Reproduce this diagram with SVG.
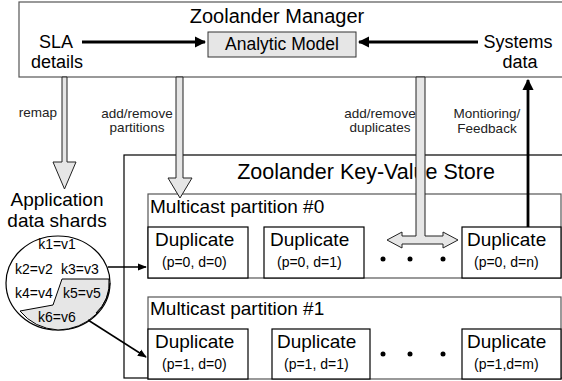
<svg xmlns="http://www.w3.org/2000/svg" width="562" height="381" viewBox="0 0 562 381">
<defs>
<style>
text{font-family:"Liberation Sans",Arial,sans-serif;fill:#000}
.big{font-size:20px}
.mid{font-size:18px}
.dup{font-size:19px}
.sm{font-size:14px}
.lbl{font-size:13.5px;fill:#222}
.kv{font-size:14px}
.box{fill:#fff;stroke:#000;stroke-width:1.2}
.gbox{fill:#fff;stroke:#555;stroke-width:1.2}
.blk{fill:#e6e6e6;stroke:#222;stroke-width:1}
.ln{stroke:#000;stroke-width:2.8;fill:none}
</style>
<marker id="ah" viewBox="0 0 10 10" refX="9" refY="5" markerWidth="4" markerHeight="4" orient="auto" markerUnits="strokeWidth"><path d="M0,0 L10,5 L0,10 z" fill="#000"/></marker>
<marker id="ah2" viewBox="0 0 10 10" refX="9" refY="5" markerWidth="6" markerHeight="6" orient="auto" markerUnits="strokeWidth"><path d="M0,1 L10,5 L0,9 z" fill="#000"/></marker>
</defs>

<g id="manager">
<rect x="19" y="2" width="545" height="75" class="gbox"/>
<text x="277" y="23" text-anchor="middle" class="big">Zoolander Manager</text>
<text x="56" y="48" text-anchor="middle" class="mid">SLA</text>
<text x="57" y="68" text-anchor="middle" class="mid">details</text>
<text x="518" y="48" text-anchor="middle" class="mid">Systems</text>
<text x="520" y="68" text-anchor="middle" class="mid">data</text>
</g>
<g id="analytic-model">
<rect x="208" y="32" width="148" height="25" fill="#e6e6e6" stroke="#333" stroke-width="1"/>
<text x="282" y="50" text-anchor="middle" style="font-size:17.5px">Analytic Model</text>
</g>

<g id="store">
<rect x="124" y="155" width="440" height="223" class="box"/>
<text x="366" y="179" text-anchor="middle" style="font-size:21.5px">Zoolander Key-Value Store</text>
</g>

<g id="partition0">
<rect x="148" y="194" width="413" height="84" class="gbox"/>
<text x="150" y="213" class="dup">Multicast partition #0</text>
</g>
<g id="p0d0"><rect x="148" y="227" width="100" height="51" class="box"/><text x="155" y="246" class="dup">Duplicate</text><text x="162" y="267" class="sm">(p=0, d=0)</text></g>
<g id="p0d1"><rect x="264" y="227" width="100" height="51" class="box"/><text x="270" y="246" class="dup">Duplicate</text><text x="277" y="267" class="sm">(p=0, d=1)</text></g>
<g id="p0dn"><rect x="462" y="227" width="99" height="51" class="box"/><text x="467" y="246" class="dup">Duplicate</text><text x="474" y="267" class="sm">(p=0, d=n)</text></g>
<g id="dots0" fill="#000"><circle cx="383" cy="259" r="2.5"/><circle cx="410" cy="259" r="2.5"/><circle cx="443" cy="259" r="2.5"/></g>

<g id="partition1">
<rect x="148" y="297" width="413" height="82" class="gbox"/>
<text x="150" y="315" class="dup">Multicast partition #1</text>
</g>
<g id="p1d0"><rect x="148" y="329" width="100" height="50" class="box"/><text x="155" y="348" class="dup">Duplicate</text><text x="162" y="369" class="sm">(p=1, d=0)</text></g>
<g id="p1d1"><rect x="272" y="329" width="98" height="50" class="box"/><text x="277" y="348" class="dup">Duplicate</text><text x="284" y="369" class="sm">(p=1, d=1)</text></g>
<g id="p1dm"><rect x="462" y="329" width="99" height="50" class="box"/><text x="467" y="348" class="dup">Duplicate</text><text x="474" y="369" class="sm">(p=1,d=m)</text></g>
<g id="dots1" fill="#000"><circle cx="383" cy="354" r="2.5"/><circle cx="410" cy="354" r="2.5"/><circle cx="443" cy="354" r="2.5"/></g>

<g id="shards">
<text x="57" y="206" text-anchor="middle" class="dup">Application</text>
<text x="57" y="227" text-anchor="middle" class="dup">data shards</text>
<ellipse cx="58" cy="283" rx="52" ry="47" fill="#fff" stroke="#000" stroke-width="1.2"/>
<path d="M20,311 L53,305 L62,279 L109,279 A52,47 0 0 1 58,330 A52,47 0 0 1 20,311 Z" fill="#e6e6e6" stroke="#000" stroke-width="1"/>
<path d="M110,283 A52,47 0 0 1 96,313" fill="none" stroke="#000" stroke-width="1"/>
<text x="57" y="249" text-anchor="middle" class="kv">k1=v1</text>
<text x="15" y="274" class="kv">k2=v2</text>
<text x="61" y="274" class="kv">k3=v3</text>
<text x="15" y="298" class="kv">k4=v4</text>
<text x="63" y="298" class="kv">k5=v5</text>
<text x="38" y="322" class="kv">k6=v6</text>
</g>

<g id="connectors">
<line x1="82" y1="42" x2="205" y2="42" class="ln" marker-end="url(#ah)"/>
<line x1="478" y1="42" x2="359" y2="42" class="ln" marker-end="url(#ah)"/>
<line x1="528" y1="227" x2="528" y2="80" class="ln" marker-end="url(#ah)"/>
<line x1="108" y1="267" x2="146" y2="267" stroke="#000" stroke-width="1.5" marker-end="url(#ah2)"/>
<line x1="88" y1="320" x2="146" y2="357" stroke="#000" stroke-width="1.5" marker-end="url(#ah2)"/>
<path class="blk" d="M62,77 L67,77 L67,162 L76,162 L64.5,189 L53,162 L62,162 Z"/>
<path class="blk" d="M176,77 L183,77 L183,178 L192,178 L180,198 L168,178 L176,178 Z"/>
<path class="blk" d="M387,240 L402,232 L402,236 L416,236 L416,77 L425,77 L425,236 L443,236 L443,232 L458,240 L443,248 L443,244 L402,244 L402,248 Z"/>
<text x="57" y="117" text-anchor="end" class="lbl">remap</text>
<text x="137" y="118" text-anchor="middle" class="lbl">add/remove</text>
<text x="137" y="132" text-anchor="middle" class="lbl">partitions</text>
<text x="380" y="118" text-anchor="middle" class="lbl">add/remove</text>
<text x="380" y="132" text-anchor="middle" class="lbl">duplicates</text>
<text x="487" y="118" text-anchor="middle" class="lbl">Montioring/</text>
<text x="487" y="133" text-anchor="middle" class="lbl">Feedback</text>
</g>
</svg>
